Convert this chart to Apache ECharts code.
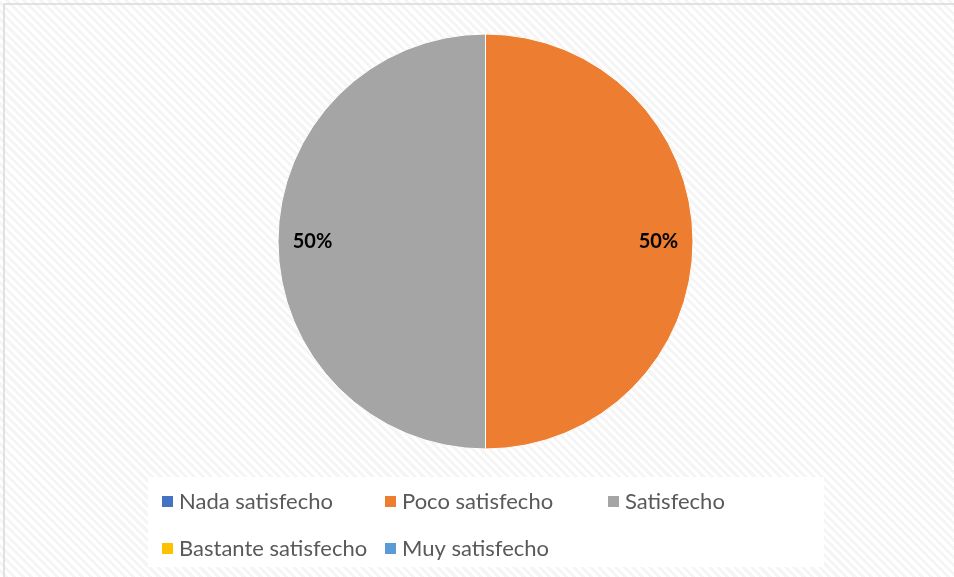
<!DOCTYPE html>
<html>
<head>
<meta charset="utf-8">
<script src="https://cdn.jsdelivr.net/npm/echarts@6/dist/echarts.min.js"></script>
<style>
  html, body { margin: 0; padding: 0; }
  #chart {
    width: 954px; height: 577px;
    background: repeating-linear-gradient(45deg, #ffffff 0 3px, #f5f5f5 3px 6px);
  }
</style>
</head>
<body>
<div id="chart"></div>
<script>
// Survey answers and their share of responses (%)
const categories = ['Nada satisfecho', 'Poco satisfecho', 'Satisfecho', 'Bastante satisfecho', 'Muy satisfecho'];
const shares = [0, 50, 50, 0, 0];
const palette = ['#4472C4', '#ED7D31', '#A5A5A5', '#FFC000', '#5B9BD5'];

const chart = echarts.init(document.getElementById('chart'), null, { renderer: 'canvas' });

const CX = 485.5, CY = 241.5, R = 207.5;

chart.setOption({
  animation: false,
  color: palette,
  graphic: [{
    type: 'rect',
    shape: { x: 4, y: 4, width: 970, height: 600 },
    style: { fill: null, stroke: '#d9d9d9', lineWidth: 1.5 },
    silent: true,
    z: -1
  }],
  legend: {
    data: categories,
    left: 148,
    top: 477,
    width: 680,
    orient: 'horizontal',
    icon: 'rect',
    itemWidth: 13,
    itemHeight: 13,
    itemGap: 14,
    padding: [8, 9, 2, 12],
    backgroundColor: '#ffffff',
    selectedMode: false,
    textStyle: {
      fontFamily: 'Lato',
      fontSize: 22,
      color: '#595959',
      width: 190,
      lineHeight: 33
    }
  },
  series: [{
    type: 'pie',
    center: [CX, CY],
    radius: [0, R],
    startAngle: 90,
    clockwise: true,
    avoidLabelOverlap: false,
    data: categories.map((name, i) => ({ name, value: shares[i] })),
    itemStyle: { borderColor: '#ffffff', borderWidth: 1 },
    label: {
      show: true,
      position: 'inside',
      formatter: p => (p.value > 0 ? p.value + '%' : ''),
      fontFamily: 'Lato',
      fontWeight: 'bold',
      fontSize: 20,
      color: '#000000'
    },
    // push the percentage labels out toward the rim
    labelLayout: p => {
      const mx = p.labelRect.x + p.labelRect.width / 2 - CX;
      const my = p.labelRect.y + p.labelRect.height / 2 - CY;
      return { dx: mx * 0.62, dy: my * 0.62 };
    },
    labelLine: { show: false },
    emphasis: { disabled: true }
  }]
});
</script>
</body>
</html>
